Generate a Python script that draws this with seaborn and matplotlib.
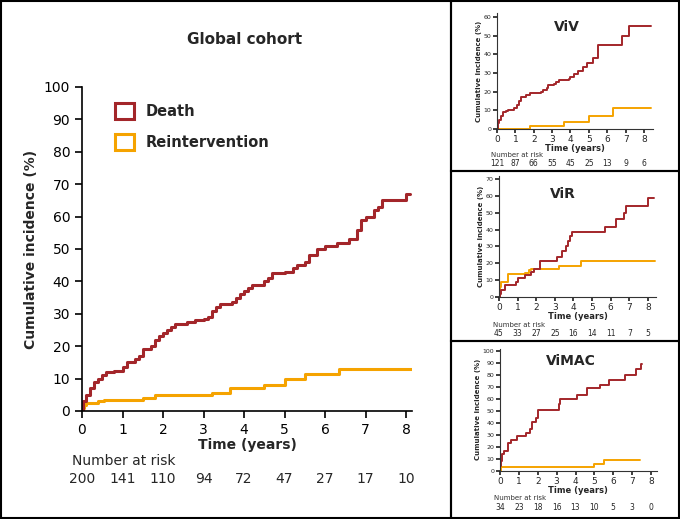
import matplotlib
matplotlib.use("Agg")
import matplotlib.pyplot as plt
import seaborn as sns
from matplotlib.patches import Patch, Rectangle

sns.set_theme(style="ticks")
plt.rcParams['font.family'] = ['DejaVu Sans']

RED = "#A3262A"
ORG = "#F5A300"

# Global cohort
g_death_t = [0,0.02,0.1,0.2,0.3,0.4,0.5,0.6,0.8,1.0,1.1,1.3,1.4,1.5,1.7,1.8,1.9,2.0,2.1,2.2,2.3,2.6,2.8,3.0,3.1,3.2,3.3,3.4,3.7,3.8,3.9,4.0,4.1,4.2,4.5,4.6,4.7,5.0,5.2,5.3,5.5,5.6,5.8,6.0,6.3,6.6,6.8,6.9,7.0,7.2,7.3,7.4,8.0,8.1]
g_death_v = [0,3,5,7,9,10,11,12,12.5,13.5,15,16,17,19,20,22,23,24,25,26,27,27.5,28,28.5,29,31,32,33,33.5,35,36,37,38,39,40,41,42.5,43,44,45,46,48,50,51,52,53,56,59,60,62,63,65,67,67]
g_re_t = [0,0.02,0.05,0.1,0.4,0.55,1.5,1.8,3.2,3.65,4.5,5.0,5.5,6.35,8.2]
g_re_v = [0,1,2,2.5,3,3.5,4,5,5.5,7,8,10,11.5,13,13]
g_risk = [200,141,110,94,72,47,27,17,10]

viv_death_t = [0,0.03,0.1,0.2,0.3,0.5,0.6,0.9,1.1,1.2,1.3,1.6,1.8,2.4,2.5,2.7,2.8,3.1,3.2,3.4,3.9,4.0,4.2,4.4,4.7,4.9,5.2,5.5,6.8,7.2,8.4]
viv_death_v = [0,3,5,7,9,9.5,10,11,13,15,17,18,19.5,20,21,22,23.5,24,25,26.5,27,28,29.5,31,33,35.5,38,45,50,55,55]
viv_re_t = [0,1.8,3.65,5.0,6.3,8.4]
viv_re_v = [0,1.5,4,7,11,11]
viv_risk = [121,87,66,55,45,25,13,9,6]

vir_death_t = [0,0.05,0.1,0.3,0.9,1.0,1.4,1.7,1.9,2.2,3.1,3.4,3.6,3.7,3.8,3.9,5.7,6.3,6.7,6.8,8.0,8.3]
vir_death_v = [0,2,4,7,9,11,13,15,16.5,21.5,24,27,30,33,36,38.5,41.5,46,50,54,59,59]
vir_re_t = [0,0.05,0.1,0.5,1.4,1.6,1.7,3.2,4.4,8.4]
vir_re_v = [0,6,9,13.5,14,16,16.5,18.5,21.5,21.5]
vir_risk = [45,33,27,25,16,14,11,7,5]

vimac_death_t = [0,0.02,0.05,0.1,0.2,0.4,0.6,0.9,1.4,1.6,1.7,1.9,2.0,3.1,3.2,4.1,4.6,5.3,5.8,6.6,7.2,7.45,7.5]
vimac_death_v = [0,4,8,14,17,23,26,29,32,35,41,44,50.5,56,60,63,69,72,76,80,85,89,89]
vimac_re_t = [0,0.05,5.0,5.5,7.4]
vimac_re_v = [0,3,6,9.5,9.5]
vimac_risk = [34,23,18,16,13,10,5,3,0]

W, H = 680, 519
fig = plt.figure(figsize=(W/100, H/100), dpi=100)

def ax_px(x0, x8, y0, ytop_px, ytop_val, xmax, ymax):
    per_x = (x8 - x0) / 8
    per_y = (y0 - ytop_px) / ytop_val
    return fig.add_axes([x0 / W, 1 - y0 / H, per_x * xmax / W, per_y * ymax / H])

def draw(ax, dt, dv, rt, rv, lw):
    sns.lineplot(x=rt, y=rv, ax=ax, color=ORG, lw=lw, drawstyle='steps-post', estimator=None)
    sns.lineplot(x=dt, y=dv, ax=ax, color=RED, lw=lw, drawstyle='steps-post', estimator=None)
    for s in ['top', 'right']:
        ax.spines[s].set_visible(False)
    ax.set_facecolor('white')

def risk_text(x0, x8, py, risk, fs):
    for i, n in enumerate(risk):
        fig.text((x0 + i*(x8-x0)/8)/W, 1-py/H, str(n), fontsize=fs, ha='center', va='center')

# Main
ax = ax_px(82, 406, 411, 87, 100, 8.15, 100)
draw(ax, g_death_t, g_death_v, g_re_t, g_re_v, 2.2)
ax.set_xlim(0, 8.15); ax.set_ylim(0, 100)
ax.set_xticks(range(9)); ax.set_yticks(range(0, 101, 10))
ax.tick_params(labelsize=10, length=5, width=1.2, colors='black')
for s in ['left', 'bottom']:
    ax.spines[s].set_linewidth(1.2); ax.spines[s].set_color('black')
ax.set_xlabel("Time (years)", fontsize=10, fontweight='bold', labelpad=1)
ax.set_ylabel("Cumulative incidence (%)", fontsize=10, fontweight='bold')
fig.text(245/W, 1-40/H, "Global cohort", ha='center', va='center', fontsize=11, fontweight='bold')
handles = [Patch(facecolor='white', edgecolor=RED, lw=2.2, label='Death'),
           Patch(facecolor='white', edgecolor=ORG, lw=2.2, label='Reintervention')]
ax.legend(handles=handles, loc='upper left', bbox_to_anchor=(0.06, 0.99), frameon=False,
          prop={'size': 10.5, 'weight': 'bold'}, handlelength=1.3, handleheight=1.3, labelspacing=1.0)
fig.text(72/W, 1-461/H, "Number at risk", fontsize=10, va='center')
risk_text(82, 406, 479, g_risk, 10)

def small(x0, x8, y0, ytop_px, ytop_val, xmax, ymax, dt, dv, rt, rv, title, risk, risk_py, lab_py, title_xy):
    a = ax_px(x0, x8, y0, ytop_px, ytop_val, xmax, ymax)
    draw(a, dt, dv, rt, rv, 1.4)
    a.set_xlim(0, xmax); a.set_ylim(0, ymax)
    a.set_xticks(range(9)); a.set_yticks(range(0, ytop_val + 1, 10))
    a.tick_params(axis='x', labelsize=6.5, length=3, pad=1)
    a.tick_params(axis='y', labelsize=4.5, length=3, pad=1)
    for s in ['left', 'bottom']:
        a.spines[s].set_linewidth(0.8); a.spines[s].set_color('#333333')
    a.set_xlabel("Time (years)", fontsize=6, fontweight='bold', labelpad=0)
    a.set_ylabel("Cumulative incidence (%)", fontsize=5, fontweight='bold', labelpad=1)
    fig.text(title_xy[0]/W, 1-title_xy[1]/H, title, fontsize=10, fontweight='bold', ha='center', va='center')
    fig.text((x0-6)/W, 1-lab_py/H, "Number at risk", fontsize=5, va='center', color='#333333')
    risk_text(x0, x8, risk_py, risk, 5.5)

small(497, 644, 129, 17, 60, 8.5, 62, viv_death_t, viv_death_v, viv_re_t, viv_re_v, "ViV", viv_risk, 163, 155, (567, 27))
small(499, 648, 297, 179, 70, 8.45, 72, vir_death_t, vir_death_v, vir_re_t, vir_re_v, "ViR", vir_risk, 334, 325, (563, 194))
small(500, 651, 471, 351, 100, 8.3, 102, vimac_death_t, vimac_death_v, vimac_re_t, vimac_re_v, "ViMAC", vimac_risk, 507, 498, (571, 361))

def box(x0, y0, x1, y1):
    fig.add_artist(Rectangle((x0/W, 1-y1/H), (x1-x0)/W, (y1-y0)/H, transform=fig.transFigure,
                             fill=False, edgecolor='black', lw=1.5))
box(1, 1, 451, 518)
box(451, 1, 679, 171)
box(451, 171, 679, 341)
box(451, 341, 679, 518)

fig.savefig("out.png", dpi=100)
